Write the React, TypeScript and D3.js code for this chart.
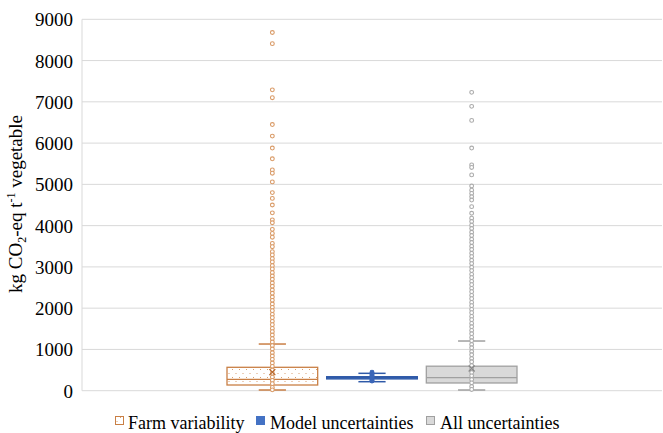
import React from "react";
import * as d3 from "d3";

const series = ["Farm variability", "Model uncertainties", "All uncertainties"];
const q1 = [138, 285, 187];
const median = [276, 315, 315];
const q3 = [567, 340, 594];
const whiskerLow = [17, 218, 17];
const whiskerHigh = [1131, 421, 1204];
const means = [450, 315, 540];
const yTicks = [0, 1000, 2000, 3000, 4000, 5000, 6000, 7000, 8000, 9000];

const farmPoints = [
  8680, 8410, 7290, 7100, 6450, 6170, 5880, 5620, 5350, 5270, 5060, 4800, 4660, 4500,
  4310, 4140, 4070, 3910, 3810, 3720, 3570, 3490, 3370, 3290, 3200, 3120, 3030, 2950,
  2860, 2780, 2700, 2610, 2530, 2440, 2360, 2270, 2190, 2100, 2020, 1940, 1850, 1770,
  1680, 1600, 1510, 1430, 1350, 1260, 1180, 1090, 1010, 920, 840, 760, 670, 590, 500,
  420, 330, 250, 170, 80, 20,
];
const modelPoints = [450, 420, 395, 370, 345, 320, 300, 275, 250, 235];
const allPoints = [
  7230, 6890, 6550, 5880, 5470, 5410, 5230, 4960, 4860, 4780, 4700, 4620, 4460, 4300,
  4180, 4100, 4010, 3930, 3840, 3760, 3670, 3590, 3500, 3420, 3330, 3250, 3160, 3080,
  2990, 2910, 2820, 2740, 2650, 2570, 2480, 2400, 2310, 2230, 2140, 2060, 1970, 1890,
  1800, 1720, 1630, 1550, 1460, 1380, 1290, 1210, 1120, 1040, 950, 870, 780, 700, 610,
  530, 440, 360, 270, 190, 100, 30,
];
const points = [farmPoints, modelPoints, allPoints];

const strokeColors = ["#C97F45", "#2F5AA8", "#A0A0A0"];
const markerColors = ["#D99A66", "#3A66B8", "#ABABAB"];
const fills = ["url(#farmPattern)", "#4472C4", "#D9D9D9"];

const W = 663;
const H = 433;
const plotLeft = 82;
const plotRight = 662;
const plotTop = 19.3;
const plotBottom = 390.7;

function Label(props: any) {
  const { children, size, ...rest } = props;
  return (
    <text fontSize={size || 18} fill="#000" style={{ fontFamily: '"Liberation Serif"' }} {...rest}>
      {children}
    </text>
  );
}

export default function App() {
  const y = d3.scaleLinear().domain([0, 9000]).range([plotBottom, plotTop]);
  const x = d3.scaleBand().domain(series).range([227, 517]).paddingInner(0.09);
  const bw = x.bandwidth();

  return (
    <svg width={W} height={H} style={{ position: "absolute", left: 0, top: 0, background: "#fff" }}>
      <defs>
        <pattern id="farmPattern" width="7" height="8" patternUnits="userSpaceOnUse">
          <rect width="7" height="8" fill="#fff" />
          <rect x="1" y="1" width="1" height="1" fill="#D9A070" />
          <rect x="4.5" y="5" width="1" height="1" fill="#D9A070" />
        </pattern>
      </defs>
      {yTicks.map((t) => (
        <line
          key={"g" + t}
          x1={plotLeft}
          x2={plotRight}
          y1={y(t)}
          y2={y(t)}
          stroke="#D9D9D9"
          strokeWidth={1}
        />
      ))}
      {yTicks.map((t) => (
        <Label key={"l" + t} size={19} x={73} y={y(t) + 7} textAnchor="end">
          {String(t)}
        </Label>
      ))}
      <line x1={plotLeft} x2={plotLeft} y1={plotTop} y2={plotBottom} stroke="#D9D9D9" />
      <Label size={19} transform={`translate(22, ${(plotTop + plotBottom) / 2 - 1}) rotate(-90)`} textAnchor="middle">
        kg CO<tspan fontSize={12} dy={4}>2</tspan>
        <tspan dy={-4}>-eq t</tspan>
        <tspan fontSize={12} dy={-7}>-1</tspan>
        <tspan dy={7}> vegetable</tspan>
      </Label>

      {series.map((s, i) => {
        const x0 = x(s) as number;
        const cx = x0 + bw / 2;
        const capW = bw * 0.3;
        const col = strokeColors[i];
        return (
          <g key={s}>
            <line x1={cx} x2={cx} y1={y(whiskerHigh[i])} y2={y(q3[i])} stroke={col} strokeWidth={1.2} />
            <line x1={cx} x2={cx} y1={y(q1[i])} y2={y(whiskerLow[i])} stroke={col} strokeWidth={1.2} />
            <line
              x1={cx - capW / 2}
              x2={cx + capW / 2}
              y1={y(whiskerHigh[i])}
              y2={y(whiskerHigh[i])}
              stroke={col}
              strokeWidth={1.5}
            />
            <line
              x1={cx - capW / 2}
              x2={cx + capW / 2}
              y1={y(whiskerLow[i])}
              y2={y(whiskerLow[i])}
              stroke={col}
              strokeWidth={1.5}
            />
            <rect
              x={x0}
              y={y(q3[i])}
              width={bw}
              height={y(q1[i]) - y(q3[i])}
              fill={fills[i]}
              stroke={col}
              strokeWidth={1.3}
            />
            <line
              x1={x0}
              x2={x0 + bw}
              y1={y(median[i])}
              y2={y(median[i])}
              stroke={col}
              strokeWidth={1.3}
            />
            {points[i].map((v, k) => (
              <circle
                key={k}
                cx={cx}
                cy={y(v)}
                r={1.9}
                fill={i === 1 ? markerColors[i] : "#fff"}
                stroke={markerColors[i]}
                strokeWidth={1.1}
              />
            ))}
            {i !== 1 && (
              <path
                d={`M${cx - 3},${y(means[i]) - 3}L${cx + 3},${y(means[i]) + 3}M${cx - 3},${y(means[i]) + 3}L${cx + 3},${y(means[i]) - 3}`}
                stroke={i === 0 ? "#B86A30" : "#888"}
                strokeWidth={1.3}
              />
            )}
          </g>
        );
      })}

      <rect x={115.5} y={416.5} width={8} height={8} fill="url(#farmPattern)" stroke={strokeColors[0]} strokeWidth={1} />
      <Label x={128} y={429}>Farm variability</Label>
      <rect x={256.5} y={416.5} width={8} height={8} fill="#4472C4" stroke="#4472C4" strokeWidth={1} />
      <Label x={270} y={429}>Model uncertainties</Label>
      <rect x={426.5} y={416.5} width={8} height={8} fill="#D9D9D9" stroke="#A0A0A0" strokeWidth={1} />
      <Label x={440} y={429}>All uncertainties</Label>
    </svg>
  );
}
